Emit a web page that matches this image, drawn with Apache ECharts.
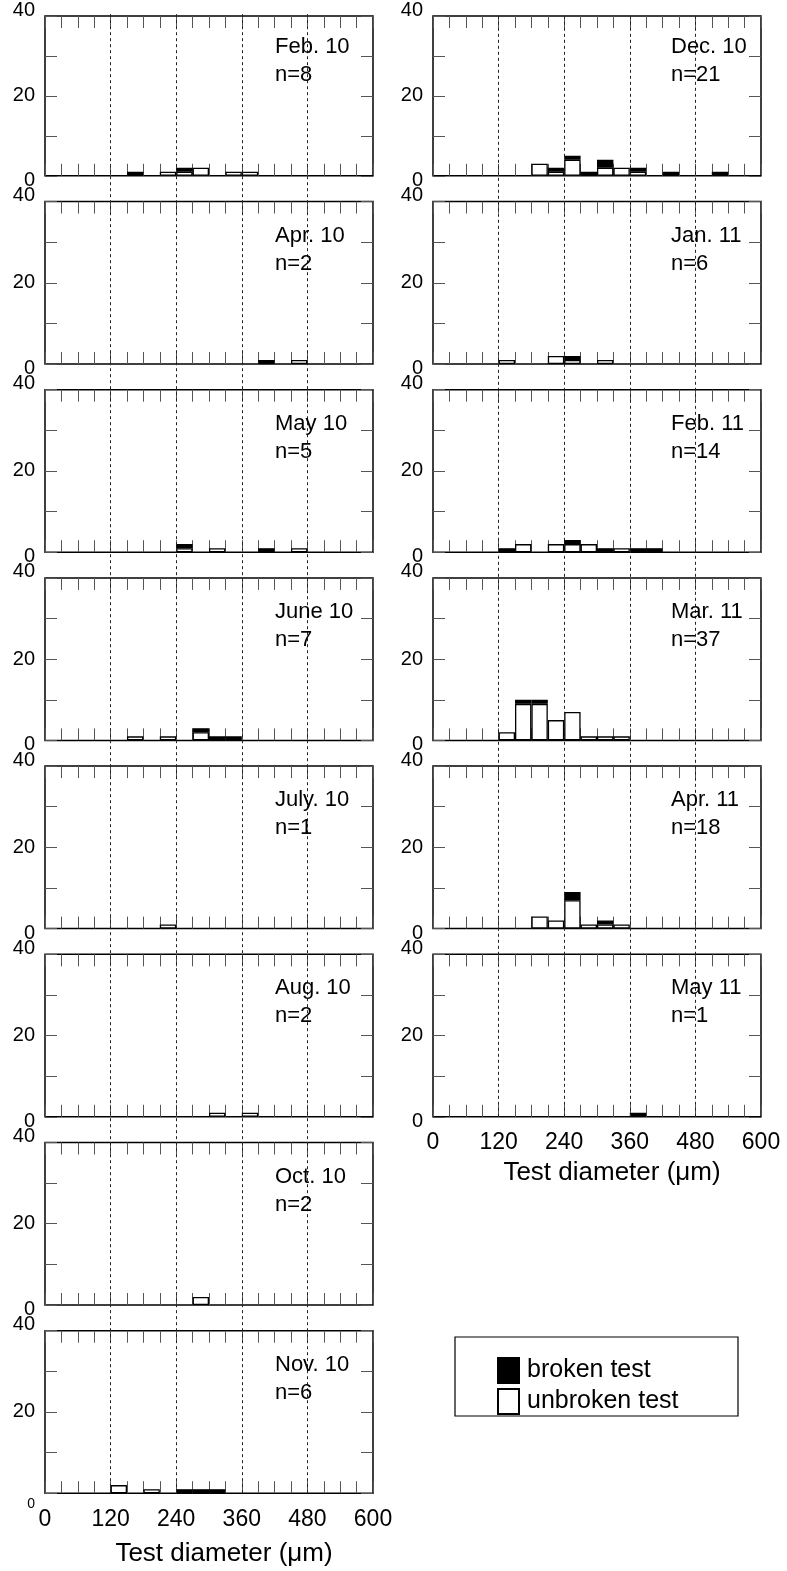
<!DOCTYPE html>
<html><head><meta charset="utf-8">
<script src="https://cdn.jsdelivr.net/npm/echarts@6/dist/echarts.min.js"></script>
<style>html,body{margin:0;padding:0;background:#fff}#c{width:787px;height:1571px}</style>
</head><body><div id="c"></div>
<script>
// ---------- DATA ----------
// bin centres (µm), 30-µm bins from 0 to 600
const binCenters = [15,45,75,105,135,165,195,225,255,285,315,345,375,405,435,465,495,525,555,585];
const xTickLabels = [0,120,240,360,480,600];
const yTickLabels = [0,20,40];
const dottedGuides = [120,240,360,480];
const legendNames = ['broken test','unbroken test'];
const axisTitle = 'Test diameter (\u03bcm)';

// left column
const feb10Unbroken = [0,0,0,0,0,0,0,1,1,2,0,1,1,0,0,0,0,0,0,0];
const feb10Broken   = [0,0,0,0,0,1,0,0,1,0,0,0,0,0,0,0,0,0,0,0];
const apr10Unbroken = [0,0,0,0,0,0,0,0,0,0,0,0,0,0,0,1,0,0,0,0];
const apr10Broken   = [0,0,0,0,0,0,0,0,0,0,0,0,0,1,0,0,0,0,0,0];
const may10Unbroken = [0,0,0,0,0,0,0,0,1,0,1,0,0,0,0,1,0,0,0,0];
const may10Broken   = [0,0,0,0,0,0,0,0,1,0,0,0,0,1,0,0,0,0,0,0];
const jun10Unbroken = [0,0,0,0,0,1,0,1,0,2,0,0,0,0,0,0,0,0,0,0];
const jun10Broken   = [0,0,0,0,0,0,0,0,0,1,1,1,0,0,0,0,0,0,0,0];
const jul10Unbroken = [0,0,0,0,0,0,0,1,0,0,0,0,0,0,0,0,0,0,0,0];
const jul10Broken   = [0,0,0,0,0,0,0,0,0,0,0,0,0,0,0,0,0,0,0,0];
const aug10Unbroken = [0,0,0,0,0,0,0,0,0,0,1,0,1,0,0,0,0,0,0,0];
const aug10Broken   = [0,0,0,0,0,0,0,0,0,0,0,0,0,0,0,0,0,0,0,0];
const oct10Unbroken = [0,0,0,0,0,0,0,0,0,2,0,0,0,0,0,0,0,0,0,0];
const oct10Broken   = [0,0,0,0,0,0,0,0,0,0,0,0,0,0,0,0,0,0,0,0];
const nov10Unbroken = [0,0,0,0,2,0,1,0,0,0,0,0,0,0,0,0,0,0,0,0];
const nov10Broken   = [0,0,0,0,0,0,0,0,1,1,1,0,0,0,0,0,0,0,0,0];
// right column
const dec10Unbroken = [0,0,0,0,0,0,3,1,4,0,2,2,1,0,0,0,0,0,0,0];
const dec10Broken   = [0,0,0,0,0,0,0,1,1,1,2,0,1,0,1,0,0,1,0,0];
const jan11Unbroken = [0,0,0,0,1,0,0,2,1,0,1,0,0,0,0,0,0,0,0,0];
const jan11Broken   = [0,0,0,0,0,0,0,0,1,0,0,0,0,0,0,0,0,0,0,0];
const feb11Unbroken = [0,0,0,0,0,2,0,2,2,2,0,1,0,0,0,0,0,0,0,0];
const feb11Broken   = [0,0,0,0,1,0,0,0,1,0,1,0,1,1,0,0,0,0,0,0];
const mar11Unbroken = [0,0,0,0,2,9,9,5,7,1,1,1,0,0,0,0,0,0,0,0];
const mar11Broken   = [0,0,0,0,0,1,1,0,0,0,0,0,0,0,0,0,0,0,0,0];
const apr11Unbroken = [0,0,0,0,0,0,3,2,7,1,1,1,0,0,0,0,0,0,0,0];
const apr11Broken   = [0,0,0,0,0,0,0,0,2,0,1,0,0,0,0,0,0,0,0,0];
const may11Unbroken = [0,0,0,0,0,0,0,0,0,0,0,0,0,0,0,0,0,0,0,0];
const may11Broken   = [0,0,0,0,0,0,0,0,0,0,0,0,1,0,0,0,0,0,0,0];

const leftTitles  = ['Feb. 10','Apr. 10','May 10','June 10','July. 10','Aug. 10','Oct. 10','Nov. 10'];
const leftN       = [8,2,5,7,1,2,2,6];
const leftUnbroken = [feb10Unbroken,apr10Unbroken,may10Unbroken,jun10Unbroken,jul10Unbroken,aug10Unbroken,oct10Unbroken,nov10Unbroken];
const leftBroken   = [feb10Broken,apr10Broken,may10Broken,jun10Broken,jul10Broken,aug10Broken,oct10Broken,nov10Broken];
const rightTitles = ['Dec. 10','Jan. 11','Feb. 11','Mar. 11','Apr. 11','May 11'];
const rightN      = [21,6,14,37,18,1];
const rightUnbroken = [dec10Unbroken,jan11Unbroken,feb11Unbroken,mar11Unbroken,apr11Unbroken,may11Unbroken];
const rightBroken   = [dec10Broken,jan11Broken,feb11Broken,mar11Broken,apr11Broken,may11Broken];

// ---------- LAYOUT ----------
const FONT = 'Liberation Sans';
const COL_LEFT = [45, 433];
const PW = 328, PH = 162.5, TOP0 = 13.3, STEP = 188.2;
const TITLE_DX = [230, 238];

const grids = [], xAxes = [], yAxes = [], series = [], graphics = [];

function addPanel(col, row, title, n, unb, brk, isBottom) {
  const g = grids.length;
  const left = COL_LEFT[col], top = TOP0 + STEP * row;
  grids.push({left: left, top: top, width: PW, height: PH, show: true,
    borderColor: '#000', borderWidth: 1.5, backgroundColor: 'transparent'});
  const tick = {show: true, inside: true, length: 12, lineStyle: {color: '#555', width: 1}};
  const noLine = {show: false, onZero: false};
  // category axis for the bars
  xAxes.push({type: 'category', gridIndex: g, data: binCenters, show: false, boundaryGap: true,
    axisLine: noLine});
  // bottom value axis
  const lastLeft = (col === 0 && isBottom);
  xAxes.push({type: 'value', gridIndex: g, position: 'bottom', min: 0, max: 600, interval: 30,
    axisLine: noLine, splitLine: {show: false}, axisTick: tick,
    axisLabel: {show: isBottom, showMinLabel: true, showMaxLabel: true,
      margin: lastLeft ? 15 : 14, fontSize: 23, fontFamily: FONT, color: '#000',
      formatter: v => xTickLabels.indexOf(v) >= 0 ? String(v) : ''},
    name: isBottom ? axisTitle : '', nameLocation: 'middle', nameGap: lastLeft ? 48 : 43,
    nameTextStyle: {fontSize: 26, fontFamily: FONT, color: '#000', padding: [0, 0, 0, 30]}});
  // top value axis (ticks only)
  xAxes.push({type: 'value', gridIndex: g, position: 'top', min: 0, max: 600, interval: 30,
    axisLine: noLine, splitLine: {show: false}, axisTick: tick, axisLabel: {show: false}});
  const lo = lastLeft ? 'los' : 'lo';
  yAxes.push({type: 'value', gridIndex: g, position: 'left', min: 0, max: 40, interval: 10,
    axisLine: noLine, splitLine: {show: false}, axisTick: tick,
    axisLabel: {margin: 10, fontSize: 20, fontFamily: FONT, color: '#000',
      showMinLabel: true, showMaxLabel: true,
      formatter: v => {
        if (yTickLabels.indexOf(v) < 0) return '';
        if (v === 0) return '{' + lo + '|0}';
        if (v === 40) return '{hi|40}';
        return '{md|' + v + '}';
      },
      rich: {
        lo: {fontSize: 20, fontFamily: FONT, color: '#000', padding: [9, 0, 0, 0]},
        los: {fontSize: 14, fontFamily: FONT, color: '#000', padding: [22, 0, 0, 0]},
        hi: {fontSize: 20, fontFamily: FONT, color: '#000', padding: [0, 0, 12, 0]},
        md: {fontSize: 20, fontFamily: FONT, color: '#000'}
      }}});
  yAxes.push({type: 'value', gridIndex: g, position: 'right', min: 0, max: 40, interval: 10,
    axisLine: noLine, splitLine: {show: false}, axisTick: tick, axisLabel: {show: false}});

  const common = {type: 'bar', xAxisIndex: 3 * g, yAxisIndex: 2 * g, stack: 'p' + g,
    barCategoryGap: '0%', silent: true, z: 2};
  series.push(Object.assign({}, common, {name: legendNames[1],
    data: unb.map(v => v === 0 ? null : v),
    itemStyle: {color: '#fff', borderColor: '#000', borderWidth: 1.3}}));
  series.push(Object.assign({}, common, {name: legendNames[0],
    data: brk.map(v => v === 0 ? null : v),
    itemStyle: {color: '#000', borderColor: '#000', borderWidth: 1.3}}));

  graphics.push({type: 'text', left: left + TITLE_DX[col], top: top + 20, z: 10,
    style: {text: title + '\nn=' + n, fontSize: 22, fontFamily: FONT, lineHeight: 28, fill: '#000'}});
}

leftTitles.forEach((t, i) => addPanel(0, i, t, leftN[i], leftUnbroken[i], leftBroken[i], i === leftTitles.length - 1));
rightTitles.forEach((t, i) => addPanel(1, i, t, rightN[i], rightUnbroken[i], rightBroken[i], i === rightTitles.length - 1));

// overlay grids carrying the dotted guide lines through each column
function addGuides(col, rows) {
  const g = grids.length;
  const top = TOP0;
  const height = STEP * (rows - 1) + PH;
  grids.push({left: COL_LEFT[col], top: top, width: PW, height: height, show: false});
  for (let k = 0; k < 3; k++) xAxes.push({type: 'value', gridIndex: g, min: 0, max: 600, show: false});
  for (let k = 0; k < 2; k++) yAxes.push({type: 'value', gridIndex: g, min: 0, max: 1, show: false});
  series.push({type: 'scatter', xAxisIndex: 3 * g, yAxisIndex: 2 * g, symbolSize: 0,
    data: [[0, 0]], silent: true, z: 5,
    markLine: {silent: true, symbol: ['none', 'none'], label: {show: false},
      lineStyle: {type: [3, 3], color: '#222', width: 1},
      data: dottedGuides.map(v => ({xAxis: v}))}});
}
addGuides(0, leftTitles.length);
addGuides(1, rightTitles.length);

// legend frame
graphics.push({type: 'rect', z: 0, shape: {x: 455, y: 1337, width: 283, height: 79},
  style: {fill: 'none', stroke: '#000', lineWidth: 1.2}});

const option = {
  animation: false,
  backgroundColor: '#fff',
  grid: grids, xAxis: xAxes, yAxis: yAxes, series: series, graphic: graphics,
  legend: {data: legendNames, orient: 'vertical', left: 492, top: 1352,
    itemWidth: 21, itemHeight: 25, itemGap: 4, icon: 'rect', selectedMode: false,
    textStyle: {fontSize: 25, fontFamily: FONT, color: '#000', padding: [0, 0, 0, 3]}}
};
const chart = echarts.init(document.getElementById('c'), null, {renderer: 'canvas'});
chart.setOption(option);
</script></body></html>
